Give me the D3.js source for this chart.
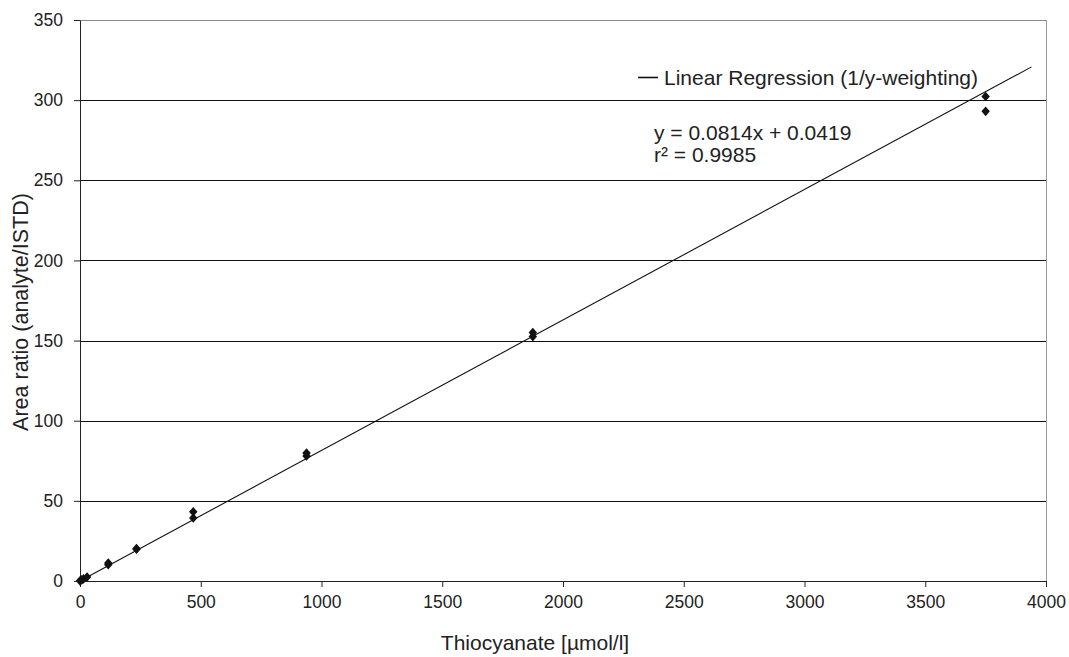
<!DOCTYPE html>
<html>
<head>
<meta charset="utf-8">
<script src="https://cdn.jsdelivr.net/npm/d3@7"></script>
<style>
  body { margin: 0; background: #fff; }
  text { font-family: "Liberation Sans", Arial, sans-serif; fill: #222; }
</style>
</head>
<body>
<div id="chart"></div>
<script>
// Data
const concentrations = [0, 7.3, 14.6, 29.3, 117, 117, 234, 234, 469, 469, 938, 938, 1875, 1875, 3750, 3750]
const areaRatios = [0.1, 0.7, 1.3, 2.5, 10.2, 11.2, 19.8, 20.3, 39.3, 43.2, 78.0, 79.8, 152.5, 155.0, 293.0, 302.3]
const xTicks = [0, 500, 1000, 1500, 2000, 2500, 3000, 3500, 4000]
const yTicks = [0, 50, 100, 150, 200, 250, 300, 350]
const slope = 0.0814
const intercept = 0.0419
const fitRange = [0, 3940]

const dataset = concentrations.map((c, i) => ({ x: c, y: areaRatios[i] }))

// Dimensions
let dimensions = {
  width: 1069,
  height: 657,
  margins: { top: 20, right: 23, bottom: 76, left: 80 },
}
dimensions.ctrWidth = dimensions.width - dimensions.margins.left - dimensions.margins.right
dimensions.ctrHeight = dimensions.height - dimensions.margins.top - dimensions.margins.bottom

const svg = d3.select('#chart')
  .append('svg')
  .attr('width', dimensions.width)
  .attr('height', dimensions.height)

const ctr = svg.append('g')
  .attr('transform', `translate(${dimensions.margins.left}, ${dimensions.margins.top})`)

// Scales
const xScale = d3.scaleLinear()
  .domain([0, 4000])
  .range([0, dimensions.ctrWidth])

const yScale = d3.scaleLinear()
  .domain([0, 350])
  .range([dimensions.ctrHeight, 0])

// Gridlines
ctr.append('g')
  .selectAll('line')
  .data(yTicks.filter(t => t > 0))
  .join('line')
  .attr('x1', 0)
  .attr('x2', dimensions.ctrWidth)
  .attr('y1', d => Math.round(yScale(d)) + 0.5)
  .attr('y2', d => Math.round(yScale(d)) + 0.5)
  .attr('stroke', d => d === 350 ? '#888' : '#111')
  .attr('stroke-width', 1)

// right border
ctr.append('line')
  .attr('x1', dimensions.ctrWidth + 0.5)
  .attr('x2', dimensions.ctrWidth + 0.5)
  .attr('y1', 0)
  .attr('y2', dimensions.ctrHeight)
  .attr('stroke', '#999')

// Axes
const xAxis = d3.axisBottom(xScale)
  .tickValues(xTicks)
  .tickFormat(d3.format('d'))
  .tickSize(6)
  .tickPadding(9)
  .tickSizeOuter(0)

const xAxisGroup = ctr.append('g')
  .attr('transform', `translate(0, ${dimensions.ctrHeight})`)
  .call(xAxis)
xAxisGroup.selectAll('text').attr('font-size', 17.5)
xAxisGroup.selectAll('line, path').attr('stroke', '#222')

const yAxis = d3.axisLeft(yScale)
  .tickValues(yTicks)
  .tickFormat(d3.format('d'))
  .tickSize(6)
  .tickPadding(11)
  .tickSizeOuter(0)

const yAxisGroup = ctr.append('g')
  .call(yAxis)
yAxisGroup.selectAll('text').attr('font-size', 17.5)
yAxisGroup.selectAll('line, path').attr('stroke', '#222')

// Regression line
const lineGenerator = d3.line()
  .x(d => xScale(d))
  .y(d => yScale(slope * d + intercept))

ctr.append('path')
  .datum(fitRange)
  .attr('d', lineGenerator)
  .attr('fill', 'none')
  .attr('stroke', '#111')
  .attr('stroke-width', 1.1)

// Points
const diamond = d3.symbol().type(d3.symbolSquare).size(42)
ctr.append('g')
  .selectAll('path')
  .data(dataset)
  .join('path')
  .attr('d', diamond)
  .attr('transform', d => `translate(${xScale(d.x)}, ${yScale(d.y)}) scale(0.92, 1.05) rotate(45)`)
  .attr('fill', '#111')

// Legend & equation
const legend = svg.append('g')
legend.append('line')
  .attr('x1', 638).attr('x2', 658)
  .attr('y1', 77.5).attr('y2', 77.5)
  .attr('stroke', '#111')
  .attr('stroke-width', 1.6)
legend.append('text')
  .attr('x', 664).attr('y', 85)
  .attr('font-size', 21)
  .text('Linear Regression (1/y-weighting)')

svg.append('text')
  .attr('x', 654).attr('y', 140)
  .attr('font-size', 21)
  .text(`y = ${slope}x + ${intercept}`)
svg.append('text')
  .attr('x', 654).attr('y', 162)
  .attr('font-size', 21)
  .text('r² = 0.9985')

// Axis labels
svg.append('text')
  .attr('x', 535)
  .attr('y', 650)
  .attr('text-anchor', 'middle')
  .attr('font-size', 21)
  .text('Thiocyanate [µmol/l]')

svg.append('text')
  .attr('transform', `translate(28, 312) rotate(-90)`)
  .attr('text-anchor', 'middle')
  .attr('font-size', 21.5)
  .text('Area ratio (analyte/ISTD)')
</script>
</body>
</html>
